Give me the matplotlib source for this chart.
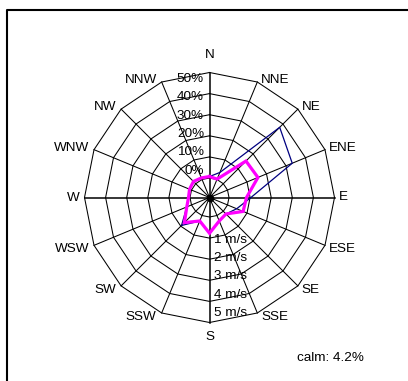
import numpy as np
import matplotlib.pyplot as plt

plt.rcParams['font.family'] = ['Liberation Sans', 'DejaVu Sans']

directions = ['N', 'NNE', 'NE', 'ENE', 'E', 'ESE', 'SE', 'SSE',
              'S', 'SSW', 'SW', 'WSW', 'W', 'WNW', 'NW', 'NNW']
# frequency per direction (%)
freq = [0.7, 3.6, 37.8, 33.2, 10.4, 4.7, 1.8, 2.8,
        7.7, 2.8, 9.5, 2.4, 0.7, 1.0, 1.5, 0.8]
# mean wind speed per direction (m/s)
speed = [0.07, 0.02, 1.52, 1.56, 0.83, 0.80, 0.18, 0.28,
         0.77, 0.28, 0.76, 0.24, 0.07, 0.10, 0.15, 0.08]
pct_ticks = [0, 10, 20, 30, 40, 50]
speed_ticks = [1, 2, 3, 4, 5]
calm = 4.2

# geometry in pixels
cx, cy = 209.5, 197.5
r0, ring_step = 19.5, 21.1  # radius of the 0 ring, pixels per 10 % (= 1 m/s)

theta = np.deg2rad(np.arange(16) * 22.5)


def to_xy(r):
    r = np.asarray(r, dtype=float)
    return cx + r * np.sin(theta), cy - r * np.cos(theta)


def closed(a):
    return np.append(a, a[0])


fig = plt.figure(figsize=(4.08, 3.81), dpi=100)
ax = fig.add_axes([0, 0, 1, 1])
ax.set_xlim(0, 408)
ax.set_ylim(381, 0)
ax.axis('off')

# frame
ax.plot([7, 7, 408], [381, 10, 10], color='black', lw=1.5, solid_capstyle='butt')

# polygonal rings
for k in range(len(pct_ticks)):
    x, y = to_xy(np.full(16, r0 + ring_step * k))
    ax.plot(closed(x), closed(y), color='black', lw=0.75)

# spokes
r_out = r0 + ring_step * (len(pct_ticks) - 1)
xo, yo = to_xy(np.full(16, r_out))
for i in range(16):
    lw = 1.1 if i % 4 == 0 else 0.75
    ax.plot([cx, xo[i]], [cy, yo[i]], color='black', lw=lw)
ax.plot(cx, cy, 'o', color='black', ms=4.5)

# series
fx, fy = to_xy(r0 + ring_step * np.array(freq) / 10)
ax.plot(closed(fx), closed(fy), color='#000080', lw=0.9)
sx, sy = to_xy(r0 + ring_step * np.array(speed))
ax.plot(closed(sx), closed(sy), color='#ff00ff', lw=2.3, solid_joinstyle='miter')

fs = 9.7
# direction labels beside the outer vertices
for i, name in enumerate(directions):
    s, c = np.sin(theta[i]), np.cos(theta[i])
    x, y = xo[i], yo[i]
    if abs(s) < 0.05:
        ha = 'center'
        y += -17.5 if c > 0 else 14.5
    elif s > 0:
        ha = 'left'
        x += 4
        y += -2 if c > 0.05 else (4 if c < -0.05 else 0)
    else:
        ha = 'right'
        x -= 5
        y += -2 if c > 0.05 else (4 if c < -0.05 else 0)
    ax.text(x, y, name, ha=ha, va='center', fontsize=fs)

# scale labels
for k, p in enumerate(pct_ticks):
    ax.text(204, cy - 26.7 - 18.4 * k, f'{p}%', ha='right', va='center', fontsize=fs)
for k, v in enumerate(speed_ticks):
    ax.text(214.5, cy + 42.3 + 18.3 * k, f'{v} m/s', ha='left', va='center', fontsize=fs)

ax.text(297, 358, f'calm: {calm}%', ha='left', va='center', fontsize=fs)

fig.savefig('out.png', dpi=100)
